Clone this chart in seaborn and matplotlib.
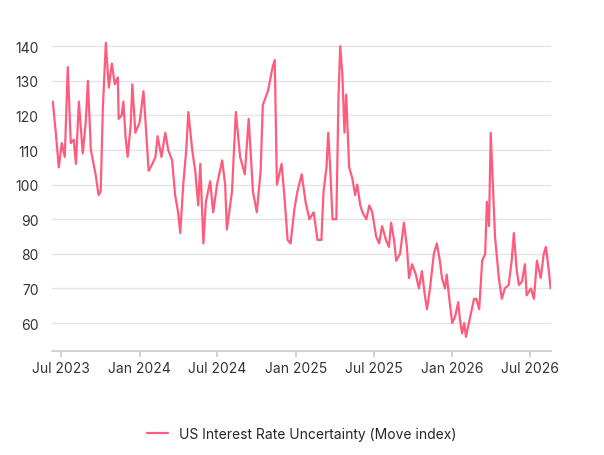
import matplotlib
matplotlib.use("Agg")
import matplotlib.pyplot as plt
import matplotlib.dates as mdates
import pandas as pd
import seaborn as sns

dates = ["2023-06-12","2023-06-19","2023-06-26","2023-07-03","2023-07-10","2023-07-17","2023-07-24","2023-07-31","2023-08-05","2023-08-12","2023-08-21","2023-08-28","2023-09-02","2023-09-09","2023-09-20","2023-09-27","2023-10-02","2023-10-07","2023-10-14","2023-10-21","2023-10-28","2023-11-04","2023-11-11","2023-11-13","2023-11-20","2023-11-24","2023-11-29","2023-12-04","2023-12-11","2023-12-15","2023-12-22","2024-01-01","2024-01-10","2024-01-17","2024-01-22","2024-01-31","2024-02-07","2024-02-12","2024-02-21","2024-03-01","2024-03-08","2024-03-17","2024-03-24","2024-03-31","2024-04-05","2024-04-12","2024-04-19","2024-04-24","2024-05-03","2024-05-10","2024-05-17","2024-05-22","2024-05-29","2024-06-04","2024-06-14","2024-06-21","2024-06-30","2024-07-12","2024-07-19","2024-07-23","2024-08-04","2024-08-13","2024-08-23","2024-09-03","2024-09-12","2024-09-22","2024-10-01","2024-10-10","2024-10-15","2024-10-27","2024-11-07","2024-11-12","2024-11-17","2024-11-28","2024-12-05","2024-12-12","2024-12-19","2024-12-28","2025-01-04","2025-01-14","2025-01-23","2025-02-01","2025-02-11","2025-02-20","2025-03-01","2025-03-06","2025-03-13","2025-03-17","2025-03-22","2025-03-27","2025-04-05","2025-04-10","2025-04-14","2025-04-19","2025-04-24","2025-04-28","2025-05-05","2025-05-12","2025-05-19","2025-05-24","2025-05-31","2025-06-05","2025-06-14","2025-06-21","2025-06-28","2025-07-07","2025-07-14","2025-07-21","2025-07-30","2025-08-06","2025-08-11","2025-08-18","2025-08-23","2025-09-01","2025-09-10","2025-09-17","2025-09-22","2025-09-29","2025-10-08","2025-10-15","2025-10-22","2025-10-29","2025-11-03","2025-11-10","2025-11-19","2025-11-26","2025-12-03","2025-12-08","2025-12-15","2025-12-19","2025-12-26","2026-01-01","2026-01-08","2026-01-15","2026-01-19","2026-01-24","2026-01-29","2026-02-02","2026-02-09","2026-02-14","2026-02-21","2026-02-26","2026-03-05","2026-03-12","2026-03-19","2026-03-23","2026-03-28","2026-04-01","2026-04-06","2026-04-11","2026-04-20","2026-04-27","2026-05-04","2026-05-13","2026-05-20","2026-05-25","2026-06-01","2026-06-06","2026-06-13","2026-06-20","2026-06-24","2026-07-04","2026-07-11","2026-07-18","2026-07-27","2026-08-03","2026-08-08","2026-08-15","2026-08-19"]
move_index = [124,115,105,112,108,134,112,113,106,124,109,118,130,110,103,97,98,122,141,128,135,129,131,119,120,124,114,108,117,129,115,118,127,114,104,106,108,114,108,115,110,107,97,92,86,100,110,121,110,104,94,106,83,95,101,92,100,107,100,87,98,121,108,103,119,98,92,104,123,127,134,136,100,106,96,84,83,93,98,103,95,90,92,84,84,98,105,115,104,90,90,125,140,132,115,126,105,102,97,100,94,92,90,94,92,85,83,88,84,82,89,84,78,80,89,82,73,77,74,70,75,68,64,70,80,83,78,73,70,74,66,60,62,66,61,57,60,56,60,63,67,67,64,78,80,95,88,115,100,85,73,67,70,71,78,86,75,71,72,77,68,70,67,78,73,80,82,75,70]
series_name = "US Interest Rate Uncertainty (Move index)"

df = pd.DataFrame({"date": pd.to_datetime(dates), "value": move_index})

sns.set_theme(style="white")
plt.rcParams["font.family"] = ["Inter", "DejaVu Sans"]

fig = plt.figure(figsize=(6.04, 4.56), dpi=100)
ax = fig.add_axes([0.086, 0.228, 0.827, 0.695])
sns.lineplot(data=df, x="date", y="value", ax=ax, color="#ff5c7d", linewidth=1.6, label=series_name)

ax.set_ylim(51.9, 143.5)
ax.set_yticks([60, 70, 80, 90, 100, 110, 120, 130, 140])
ax.set_xlim(pd.Timestamp("2023-06-10"), pd.Timestamp("2026-08-21"))
ax.xaxis.set_major_locator(mdates.MonthLocator(bymonth=[1, 7]))
ax.xaxis.set_major_formatter(mdates.DateFormatter("%b %Y"))
ax.grid(axis="y", color="#e3e3ea", linewidth=1)
ax.set_xlabel("")
ax.set_ylabel("")
for s in ["top", "right", "left"]:
    ax.spines[s].set_visible(False)
ax.spines["bottom"].set_color("#cccccc")
ax.tick_params(axis="x", bottom=True, length=4, color="#cccccc", labelsize=10, labelcolor="#333333")
ax.tick_params(axis="y", left=False, labelsize=10, labelcolor="#333333")
ax.legend(loc="upper center", bbox_to_anchor=(0.5, -0.2), frameon=False, fontsize=10, handlelength=1.5)
fig.savefig("out.png", dpi=100)
